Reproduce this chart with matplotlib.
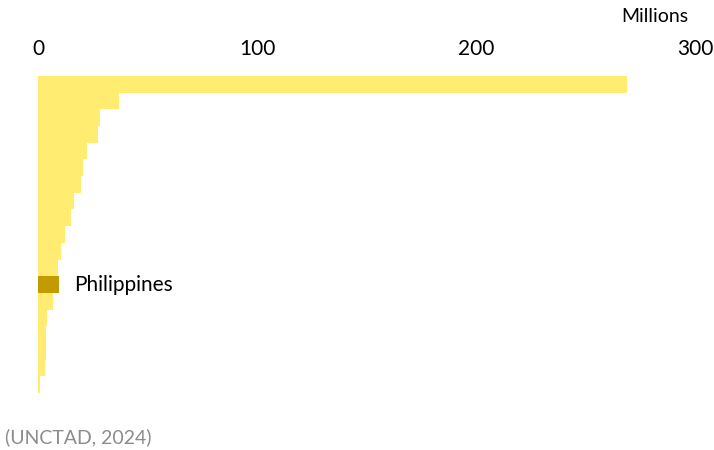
import matplotlib
matplotlib.use("Agg")
import matplotlib.pyplot as plt

# Datos (millones), de arriba a abajo
paises = ["P01", "P02", "P03", "P04", "P05", "P06", "P07", "P08", "P09", "P10",
          "P11", "P12", "Philippines", "P14", "P15", "P16", "P17", "P18", "P19"]
valores = [269.0, 37.0, 28.3, 27.4, 22.4, 20.5, 19.6, 16.4, 14.9, 12.3,
           10.7, 9.1, 9.6, 6.8, 4.0, 3.5, 3.5, 3.4, 0.8]
destacado = "Philippines"
ticks_x = [0, 100, 200, 300]

C_BAR, C_HL = "#ffec70", "#c29b00"
FONT = ["Lato", "DejaVu Sans"]
plt.rcParams["font.family"] = FONT

fig = plt.figure(figsize=(7.14, 4.5), dpi=100)
ax = fig.add_axes([38 / 714, 1 - 393 / 450, 657 / 714, 317 / 450])

y = list(range(len(paises)))
cols = [C_HL if p == destacado else C_BAR for p in paises]
ax.barh(y, valores, height=1.0, color=cols, lw=0)

ax.set_ylim(len(paises) - 0.5, -0.5)
ax.set_xlim(0, 300)
ax.xaxis.tick_top()
ax.set_xticks(ticks_x)
ax.tick_params(axis="x", length=0, pad=12, labelsize=15)
ax.set_yticks([])
for s in ax.spines.values():
    s.set_visible(False)

i = paises.index(destacado)
ax.text(valores[i] + 7.0, i, destacado, va="center", ha="left", fontsize=15)

fig.text(688 / 714, 1 - 17 / 450, "Millions", ha="right", va="center", fontsize=14)
fig.text(5 / 714, 1 - 437 / 450, "(UNCTAD, 2024)", ha="left", va="center",
         fontsize=14, color="#8c8c8c")

fig.savefig("out.png", dpi=100)
